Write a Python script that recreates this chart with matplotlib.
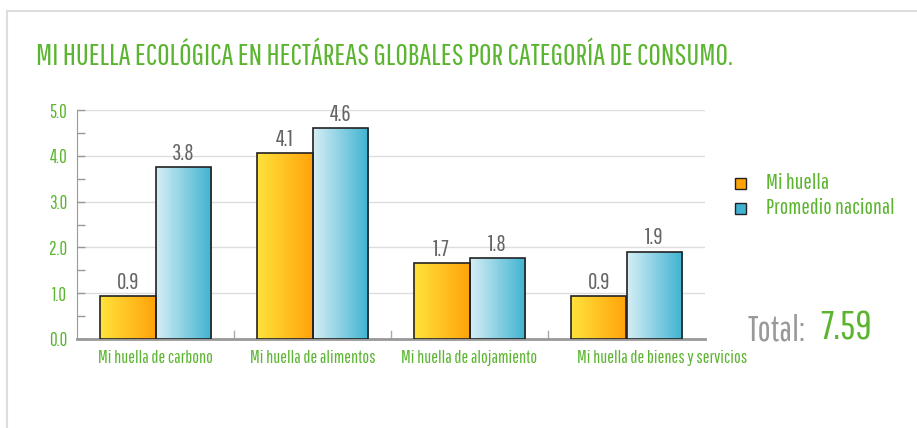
import numpy as np
import matplotlib.pyplot as plt
import matplotlib.transforms as mtransforms
from matplotlib.patches import Rectangle
from matplotlib.colors import LinearSegmentedColormap

plt.rcParams['font.family'] = ['Pathway Gothic One', 'Roboto Condensed',
                               'DejaVu Sans']

categorias = ['Mi huella de carbono', 'Mi huella de alimentos',
              'Mi huella de alojamiento', 'Mi huella de bienes y servicios']
mi_huella = [0.94, 4.06, 1.66, 0.93]
promedio = [3.76, 4.60, 1.76, 1.91]
total = 7.59

VERDE = '#5cb531'
GRIS = '#666666'

fig = plt.figure(figsize=(9.17, 4.28), dpi=100)
ax = fig.add_axes([77 / 917, 89 / 428, 628 / 917, 229 / 428])

cm_nar = LinearSegmentedColormap.from_list('nar', ['#ffe23c', '#ffa30a'])
cm_azu = LinearSegmentedColormap.from_list('azu', ['#d6eef5', '#3fb3d1'])
grad = np.linspace(0, 1, 64).reshape(1, -1)

w = 0.355
x = np.arange(len(categorias))
for xs, vals, cmap in ((x - w / 2, mi_huella, cm_nar),
                       (x + w / 2, promedio, cm_azu)):
    bars = ax.bar(xs, vals, width=w, color='none', edgecolor='#222222',
                  linewidth=1.2, zorder=4)
    for b, v in zip(bars, vals):
        x0 = b.get_x()
        im = ax.imshow(grad, cmap=cmap, aspect='auto', zorder=3,
                       extent=(x0, x0 + w, 0, v), interpolation='bilinear')
        im.set_clip_path(b)
        ax.text(x0 + w / 2, v + 0.07, f'{v:.1f}', ha='center', va='bottom',
                fontsize=16.5, color=GRIS, zorder=5, clip_on=False)

ax.set_xlim(-0.5, len(categorias) - 0.5)
ax.set_ylim(0, 5)
ax.set_yticks(np.arange(0, 5.1, 1.0))
ax.set_yticklabels([f'{t:.1f}' for t in np.arange(0, 5.1, 1.0)])
ax.set_yticks(np.arange(0.5, 5, 1.0), minor=True)
ax.tick_params(axis='y', which='both', direction='in', colors='#999999',
               labelcolor=VERDE, labelsize=13.5, length=6, width=1, pad=7)
ax.set_xticks(x)
ax.set_xticklabels(categorias)
ax.tick_params(axis='x', length=0, labelcolor=VERDE, labelsize=13, pad=8)
# la ultima etiqueta va spostata a destra come nell'originale
lbl = ax.get_xticklabels()[-1]
lbl.set_transform(lbl.get_transform() +
                  mtransforms.ScaledTranslation(0.36, 0, fig.dpi_scale_trans))
for sep in x[1:] - 0.5:
    ax.plot([sep, sep], [0, 0.18], color='#aaaaaa', lw=1, zorder=2)
ax.grid(axis='y', color='#dddddd', lw=1, zorder=0)
ax.set_axisbelow(True)
for s in ('top', 'right'):
    ax.spines[s].set_visible(False)
ax.spines['left'].set_color('#999999')
ax.spines['bottom'].set_color('#999999')
ax.spines['bottom'].set_linewidth(2)

fig.text(36 / 917, 1 - 57 / 428, 'MI HUELLA ECOLÓGICA EN HECTÁREAS GLOBALES '
         'POR CATEGORÍA DE CONSUMO.', color=VERDE, fontsize=21.8,
         va='center', ha='left')

# leyenda
for yy, col, lab in ((183, '#ffa30a', 'Mi huella'),
                     (208, '#3fb3d1', 'Promedio nacional')):
    fig.patches.append(Rectangle((735 / 917, 1 - (yy + 6) / 428), 11 / 917,
                                 11 / 428, transform=fig.transFigure,
                                 facecolor=col, edgecolor='#222222', lw=1))
    fig.text(766 / 917, 1 - yy / 428, lab, color=VERDE, fontsize=16,
             va='center', ha='left')

fig.text(747 / 917, 1 - 330 / 428, 'Total:', color='#999999', fontsize=25,
         va='center', ha='left')
fig.text(820 / 917, 1 - 329 / 428, f'{total:.2f}', color=VERDE, fontsize=29,
         va='center', ha='left')

# marco
fig.add_artist(plt.Line2D([7 / 917, 1], [1 - 10.5 / 428] * 2,
                          color='#dddddd', lw=1.5))
fig.add_artist(plt.Line2D([7 / 917] * 2, [0, 1 - 10.5 / 428],
                          color='#dddddd', lw=1.5))

fig.savefig('out.png', dpi=100)
